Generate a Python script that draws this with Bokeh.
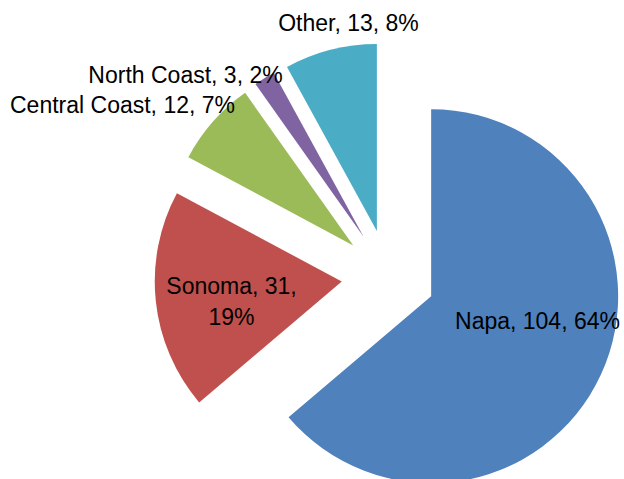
import math
from bokeh.plotting import figure
from bokeh.models import Range1d, ColumnDataSource
from bokeh.core.properties import value
from bokeh.embed import file_html
from bokeh.resources import INLINE

# ---- data ----
regions = ["Napa", "Sonoma", "Central Coast", "North Coast", "Other"]
counts = [104, 31, 12, 3, 13]
percents = [64, 19, 7, 2, 8]
colors = ["#4F81BD", "#C0504D", "#9BBB59", "#8064A2", "#4BACC6"]

# ---- layout (pixels, center of pie at origin, y up) ----
radius = 187
explode = 47
label_xy = [(149, -44), (-157, -25), (-266, 172), (-203, 202), (-40, 254)]
label_text = [
    "Napa, 104, 64%",
    "Sonoma, 31,\n19%",
    "Central Coast, 12, 7%",
    "North Coast, 3, 2%",
    "Other, 13, 8%",
]

total = sum(counts)
xs, ys, starts, ends = [], [], [], []
acc = 0.0
for c in counts:
    th0 = acc / total * 360.0          # clockwise from north
    th1 = (acc + c) / total * 360.0
    mid = math.radians((th0 + th1) / 2)
    xs.append(explode * math.sin(mid))
    ys.append(explode * math.cos(mid))
    starts.append(math.radians(90 - th0))
    ends.append(math.radians(90 - th1))
    acc += c

src = ColumnDataSource(dict(x=xs, y=ys, start=starts, end=ends, color=colors))

W, H = 624, 479
p = figure(width=W, height=H, output_backend="svg", toolbar_location=None,
           x_range=Range1d(-388, -388 + W), y_range=Range1d(276 - H, 276),
           min_border=0, min_border_left=0, min_border_right=0,
           min_border_top=0, min_border_bottom=0)
p.axis.visible = False
p.grid.visible = False
p.outline_line_color = None
p.background_fill_color = "white"

p.wedge(x="x", y="y", radius=radius, start_angle="start", end_angle="end",
        direction="clock", fill_color="color", line_color=None, source=src)

lsrc = ColumnDataSource(dict(x=[a for a, b in label_xy], y=[b for a, b in label_xy],
                             text=label_text))
p.text(x="x", y="y", text="text", source=lsrc, text_align="center",
       text_baseline="middle", text_font=value("Liberation Sans"),
       text_font_size="23px", text_color="black", text_line_height=1.2)

open("out.html", "w").write(file_html(p, INLINE))
